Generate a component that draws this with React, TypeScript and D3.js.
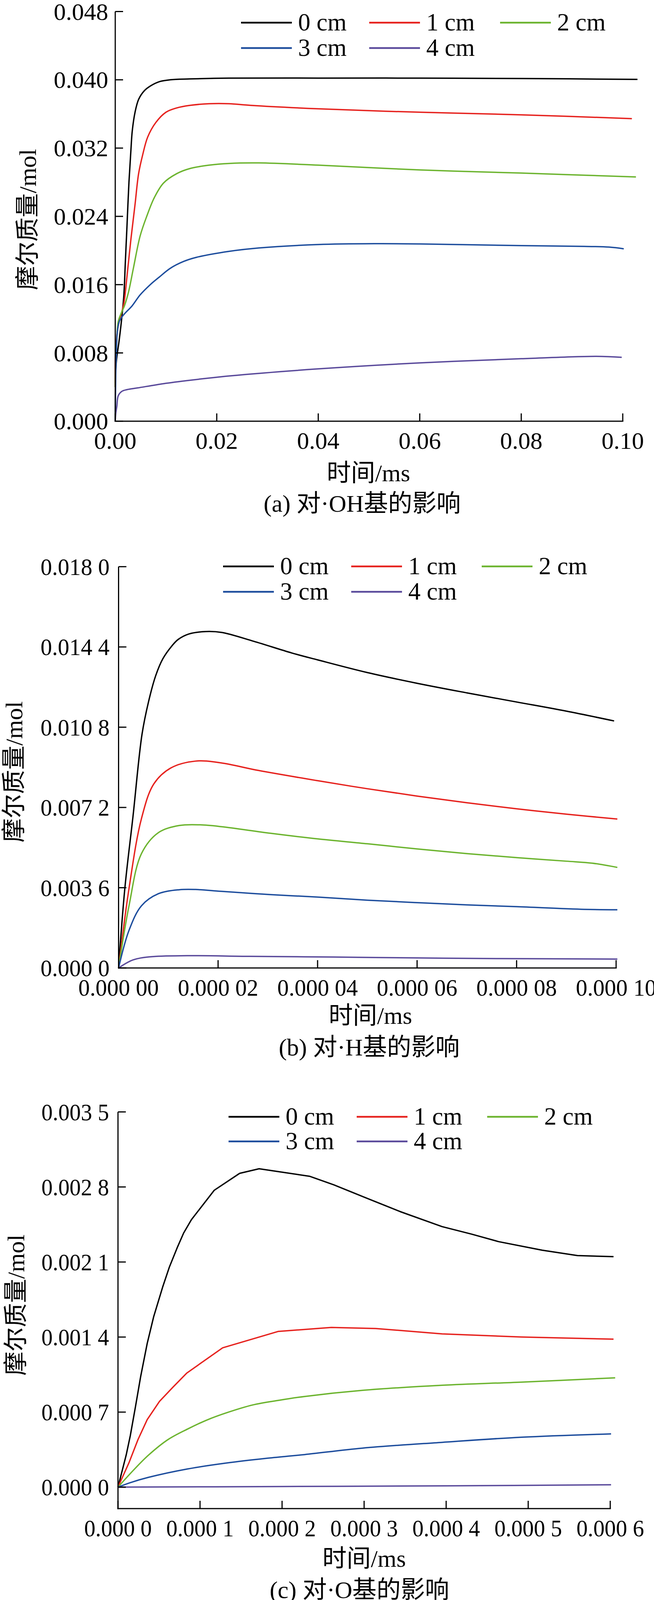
import React from 'react';
import * as d3 from 'd3';

type Pt = [number, number];

const SERIES_NAMES = ['0 cm', '1 cm', '2 cm', '3 cm', '4 cm'];
const SERIES_COLORS = ['#000000', '#E6221E', '#6CB42F', '#1D4D9D', '#5A4A9B'];

// ---------- Panel (a): ·OH ----------
const ohXTicks = [0, 0.02, 0.04, 0.06, 0.08, 0.1];
const ohXLabels = ['0.00', '0.02', '0.04', '0.06', '0.08', '0.10'];
const ohYTicks = [0, 0.008, 0.016, 0.024, 0.032, 0.04, 0.048];
const ohYLabels = ['0.000', '0.008', '0.016', '0.024', '0.032', '0.040', '0.048'];

const oh0: Pt[] = [[0, 0.0045], [0.0002, 0.0069], [0.0008, 0.0096], [0.0013, 0.0122], [0.0017, 0.0148], [0.002, 0.0188], [0.0023, 0.0227], [0.0027, 0.028], [0.0031, 0.0319], [0.00335, 0.034], [0.0039, 0.0362], [0.0046, 0.0377], [0.0057, 0.0387], [0.007, 0.0393], [0.0088, 0.0398], [0.0108, 0.04], [0.0147, 0.0401], [0.0224, 0.0402], [0.04, 0.0402], [0.06, 0.0402], [0.08, 0.04015], [0.1029, 0.04005]];
const oh1: Pt[] = [[0, 0.004], [0.0001, 0.0085], [0.0005, 0.0109], [0.001, 0.0122], [0.0017, 0.0138], [0.0023, 0.0169], [0.0031, 0.0214], [0.0039, 0.0254], [0.0046, 0.029], [0.0054, 0.0312], [0.0064, 0.0333], [0.008, 0.035], [0.01, 0.0362], [0.0121, 0.0367], [0.0147, 0.037], [0.0185, 0.0372], [0.0224, 0.0372], [0.0267, 0.037], [0.04, 0.0366], [0.06, 0.0362], [0.08, 0.0359], [0.1018, 0.03545]];
const oh2: Pt[] = [[0, 0.004], [0.0001, 0.0075], [0.0003, 0.0096], [0.0006, 0.0117], [0.0012, 0.0127], [0.0018, 0.0135], [0.0026, 0.0151], [0.0036, 0.018], [0.0049, 0.0217], [0.0062, 0.024], [0.0077, 0.0262], [0.0095, 0.0279], [0.0121, 0.029], [0.0147, 0.0296], [0.0185, 0.03], [0.0224, 0.0302], [0.0283, 0.03026], [0.04, 0.03], [0.06, 0.02944], [0.08, 0.02907], [0.1026, 0.02862]];
const oh3: Pt[] = [[0, 0], [0.0001, 0.0055], [0.0002, 0.0075], [0.0004, 0.0104], [0.0008, 0.0117], [0.0013, 0.0122], [0.002, 0.0127], [0.0033, 0.0135], [0.0049, 0.0148], [0.0069, 0.016], [0.0087, 0.0169], [0.0108, 0.0179], [0.0134, 0.0187], [0.016, 0.0192], [0.0224, 0.0199], [0.0283, 0.0203], [0.04, 0.0207], [0.0513, 0.0208], [0.06, 0.02077], [0.08, 0.02057], [0.0924, 0.02048], [0.0973, 0.0204], [0.1002, 0.0202]];
const oh4: Pt[] = [[0, 0], [0.0001, 0.0009], [0.0003, 0.0017], [0.0006, 0.003], [0.0013, 0.0035], [0.0023, 0.0037], [0.0044, 0.0039], [0.0095, 0.0044], [0.0147, 0.0048], [0.02, 0.00515], [0.0224, 0.0053], [0.04, 0.00613], [0.06, 0.00683], [0.08, 0.00732], [0.0948, 0.0076], [0.0998, 0.00748]];

// ---------- Panel (b): ·H ----------
const hXTicks = [0, 0.00002, 0.00004, 0.00006, 0.00008, 0.0001];
const hXLabels = ['0.000 00', '0.000 02', '0.000 04', '0.000 06', '0.000 08', '0.000 10'];
const hYTicks = [0, 0.0036, 0.0072, 0.0108, 0.0144, 0.018];
const hYLabels = ['0.000 0', '0.003 6', '0.007 2', '0.010 8', '0.014 4', '0.018 0'];

const h0: Pt[] = [[0, 0], [1.26e-6, 0.00357], [2.9e-6, 0.0068], [4.71e-6, 0.01048], [6.02e-6, 0.01194], [7.46e-6, 0.01311], [8.9e-6, 0.01387], [1.073e-5, 0.01445], [1.2e-5, 0.01474], [1.41e-5, 0.01498], [1.754e-5, 0.01509], [2.07e-5, 0.01505], [2.72e-5, 0.01465], [3.48e-5, 0.01413], [4.0e-5, 0.01382], [5e-5, 0.01325], [6e-5, 0.01277], [7e-5, 0.01234], [8e-5, 0.01193], [9e-5, 0.01152], [9.96e-5, 0.01108]];
const h1: Pt[] = [[0, 0], [2.1e-6, 0.00357], [4.6e-6, 0.0067], [7.1e-6, 0.00826], [1.05e-5, 0.00897], [1.55e-5, 0.00928], [2.06e-5, 0.0092], [2.81e-5, 0.00886], [4e-5, 0.0084], [5e-5, 0.00804], [6e-5, 0.00771], [7e-5, 0.00741], [8e-5, 0.00714], [9e-5, 0.0069], [1.0025e-4, 0.00668]];
const h2: Pt[] = [[0, 0], [2.1e-6, 0.00279], [4.6e-6, 0.00513], [8e-6, 0.00607], [1.22e-5, 0.00639], [1.64e-5, 0.00642], [2.06e-5, 0.00634], [3.06e-5, 0.00604], [4e-5, 0.00579], [5e-5, 0.00557], [6e-5, 0.00534], [7e-5, 0.00513], [8e-5, 0.00495], [9e-5, 0.00479], [9.52e-5, 0.0047], [1.0025e-4, 0.00451]];
const h3: Pt[] = [[0, 0], [2.1e-6, 0.00169], [4.6e-6, 0.00279], [8e-6, 0.00333], [1.22e-5, 0.00351], [1.55e-5, 0.00352], [2.06e-5, 0.00344], [3.06e-5, 0.00329], [4e-5, 0.00318], [5e-5, 0.00304], [6e-5, 0.00293], [7e-5, 0.00283], [8e-5, 0.00275], [9.36e-5, 0.00263], [1.0025e-4, 0.00261]];
const h4: Pt[] = [[0, 0], [2.9e-6, 0.00036], [6.3e-6, 0.0005], [1.38e-5, 0.00055], [2.64e-5, 0.00052], [4.32e-5, 0.00049], [6e-5, 0.00045], [7.68e-5, 0.00042], [1.0025e-4, 0.0004]];

// ---------- Panel (c): ·O ----------
const oXTicks = [0, 0.0001, 0.0002, 0.0003, 0.0004, 0.0005, 0.0006];
const oXLabels = ['0.000 0', '0.000 1', '0.000 2', '0.000 3', '0.000 4', '0.000 5', '0.000 6'];
const oYTicks = [0, 0.0007, 0.0014, 0.0021, 0.0028, 0.0035];
const oYLabels = ['0.000 0', '0.000 7', '0.001 4', '0.002 1', '0.002 8', '0.003 5'];

const o0: Pt[] = [[0, 0], [5e-6, 0.00015], [1.0e-5, 0.0003], [1.5e-5, 0.00048], [2.13e-5, 0.00075], [2.76e-5, 0.00103], [3.56e-5, 0.00134], [4.35e-5, 0.00159], [5.46e-5, 0.00187], [6.25e-5, 0.00205], [7.2e-5, 0.00223], [8.0e-5, 0.00237], [8.95e-5, 0.002495], [1.173e-4, 0.002769], [1.483e-4, 0.002927], [1.72e-4, 0.00297], [2.334e-4, 0.0029], [2.63e-4, 0.00282], [2.985e-4, 0.00271], [3.44e-4, 0.00257], [3.95e-4, 0.00243], [4.31e-4, 0.00236], [4.64e-4, 0.00229], [5.17e-4, 0.00221], [5.6e-4, 0.00216], [6.04e-4, 0.00215]];
const o1: Pt[] = [[0, 0], [1.33e-5, 0.000226], [2.44e-5, 0.000444], [3.56e-5, 0.00063], [5.06e-5, 0.0008], [6.73e-5, 0.000935], [8.4e-5, 0.001065], [1.276e-4, 0.0013], [1.95e-4, 0.001452], [2.6e-4, 0.00149], [3.14e-4, 0.00148], [3.95e-4, 0.00143], [4.92e-4, 0.0014], [6.04e-4, 0.00138]];
const o2: Pt[] = [[0, 0], [1.81e-5, 0.000152], [3.71e-5, 0.000298], [6.1e-5, 0.000444], [8.48e-5, 0.000542], [1.086e-4, 0.000627], [1.324e-4, 0.000694], [1.643e-4, 0.000767], [1.96e-4, 0.00081], [2.276e-4, 0.000846], [2.98e-4, 0.000903], [3.95e-4, 0.00095], [4.92e-4, 0.00098], [6.06e-4, 0.00102]];
const o3: Pt[] = [[0, 0], [1.5e-5, 0.000042], [3.71e-5, 0.0000913], [8.48e-5, 0.00017], [1.324e-4, 0.000225], [1.8e-4, 0.000268], [2.276e-4, 0.000304], [2.98e-4, 0.000364], [3.95e-4, 0.000418], [4.92e-4, 0.000466], [6.01e-4, 0.000497]];
const o4: Pt[] = [[0, 0], [2e-4, 0.000006], [4e-4, 0.000012], [6.01e-4, 0.000022]];

const FONT = "'Liberation Serif', 'Times New Roman', 'Noto Sans CJK SC', serif";

interface PanelProps {
  xDomain: [number, number];
  yDomain: [number, number];
  xRange: [number, number];
  yRange: [number, number];
  xTicks: number[];
  xLabels: string[];
  yTicks: number[];
  yLabels: string[];
  series: Pt[][];
  curves: d3.CurveFactory[];
  yLabelGap: number;
  labelScale: number;
  legendRows: [number, number];
  legendCols: number[];
  xTitle: [number, number];
  yTitle: [number, number];
  caption: [number, number, string];
}

function Panel(p: PanelProps) {
  const x = d3.scaleLinear().domain(p.xDomain).range(p.xRange);
  const y = d3.scaleLinear().domain(p.yDomain).range(p.yRange);
  const axisY = y(p.yDomain[0]);
  const axisX = x(p.xDomain[0]);
  const xEnd = x(p.xTicks[p.xTicks.length - 1]);
  const yTop = y(p.yTicks[p.yTicks.length - 1]);
  const tickLen = 20;
  const legendItems = SERIES_NAMES.map((n, i) => ({
    name: n,
    color: SERIES_COLORS[i],
    col: p.legendCols[i % 3],
    row: p.legendRows[Math.floor(i / 3)],
  }));
  return (
    <g>
      {p.series.map((s, i) => {
        const line = d3
          .line<Pt>()
          .x((d) => x(d[0]))
          .y((d) => y(d[1]))
          .curve(p.curves[i]);
        return (
          <path key={i} d={line(s) || ''} fill="none" stroke={SERIES_COLORS[i]} strokeWidth={3.5} strokeLinejoin="round" />
        );
      })}
      <line x1={axisX} x2={axisX} y1={yTop} y2={axisY + 1.5} stroke="#000" strokeWidth={3} />
      <line x1={axisX - 1.5} x2={xEnd + 1.5} y1={axisY} y2={axisY} stroke="#000" strokeWidth={3} />
      {p.xTicks.map((t, i) => (
        <g key={'xt' + i}>
          <line x1={x(t)} x2={x(t)} y1={axisY} y2={axisY - tickLen} stroke="#000" strokeWidth={3} />
          <text
            transform={`translate(${x(t)},${axisY + 71}) scale(${p.labelScale},1)`}
            textAnchor="middle"
            fontSize={62}
            fontFamily={FONT}
          >
            {p.xLabels[i]}
          </text>
        </g>
      ))}
      {p.yTicks.map((t, i) => (
        <g key={'yt' + i}>
          <line x1={axisX} x2={axisX + tickLen} y1={y(t)} y2={y(t)} stroke="#000" strokeWidth={3} />
          <text
            transform={`translate(${axisX - p.yLabelGap},${y(t) + 21}) scale(${p.labelScale},1)`}
            textAnchor="end"
            fontSize={62}
            fontFamily={FONT}
          >
            {p.yLabels[i]}
          </text>
        </g>
      ))}
      {legendItems.map((it, i) => (
        <g key={'lg' + i}>
          <line x1={it.col} x2={it.col + 130} y1={it.row} y2={it.row} stroke={it.color} strokeWidth={4.5} />
          <text x={it.col + 146} y={it.row + 20} fontSize={63} fontFamily={FONT}>
            {it.name}
          </text>
        </g>
      ))}
      <text x={p.xTitle[0]} y={p.xTitle[1]} textAnchor="middle" fontSize={62} fontFamily={FONT}>
        时间/ms
      </text>
      <text
        transform={`translate(${p.yTitle[0]},${p.yTitle[1]}) rotate(-90)`}
        textAnchor="middle"
        fontSize={62}
        fontFamily={FONT}
      >
        摩尔质量/mol
      </text>
      <text x={p.caption[0]} y={p.caption[1]} textAnchor="middle" fontSize={62} fontFamily={FONT}>
        {p.caption[2]}
      </text>
    </g>
  );
}

export default function App() {
  const smooth = d3.curveCatmullRom.alpha(0.5);
  const lin = d3.curveLinear;
  return (
    <svg
      width={1674}
      height={4114}
      viewBox="0 0 1674 4114"
      style={{ position: 'absolute', left: 0, top: 0, background: '#fff' }}
    >
      <rect x={0} y={0} width={1674} height={4114} fill="#fff" />
      <Panel
        xDomain={[0, 0.1]}
        yDomain={[0, 0.048]}
        xRange={[295, 1594]}
        yRange={[1078.3, 29.5]}
        xTicks={ohXTicks}
        xLabels={ohXLabels}
        yTicks={ohYTicks}
        yLabels={ohYLabels}
        series={[oh0, oh1, oh2, oh3, oh4]}
        curves={[smooth, smooth, smooth, smooth, smooth]}
        yLabelGap={18}
        labelScale={1}
        legendRows={[58, 123]}
        legendCols={[617, 945, 1280]}
        xTitle={[943, 1232]}
        yTitle={[92, 562]}
        caption={[927, 1310, '(a) 对·OH基的影响']}
      />
      <Panel
        xDomain={[0, 0.0001]}
        yDomain={[0, 0.018]}
        xRange={[303.5, 1577]}
        yRange={[2478, 1450.7]}
        xTicks={hXTicks}
        xLabels={hXLabels}
        yTicks={hYTicks}
        yLabels={hYLabels}
        series={[h0, h1, h2, h3, h4]}
        curves={[smooth, smooth, smooth, smooth, smooth]}
        yLabelGap={23}
        labelScale={0.95}
        legendRows={[1450, 1515]}
        legendCols={[571, 899, 1233]}
        xTitle={[948, 2621]}
        yTitle={[57, 1976]}
        caption={[945, 2702, '(b) 对·H基的影响']}
      />
      <Panel
        xDomain={[0, 0.0006]}
        yDomain={[-0.0002, 0.0035]}
        xRange={[302, 1562]}
        yRange={[3862, 2846.5]}
        xTicks={oXTicks}
        xLabels={oXLabels}
        yTicks={oYTicks}
        yLabels={oYLabels}
        series={[o0, o1, o2, o3, o4]}
        curves={[lin, lin, smooth, smooth, smooth]}
        yLabelGap={23}
        labelScale={0.93}
        legendRows={[2859, 2922]}
        legendCols={[585, 913, 1247]}
        xTitle={[932, 4011]}
        yTitle={[62, 3341]}
        caption={[920, 4091, '(c) 对·O基的影响']}
      />
    </svg>
  );
}
